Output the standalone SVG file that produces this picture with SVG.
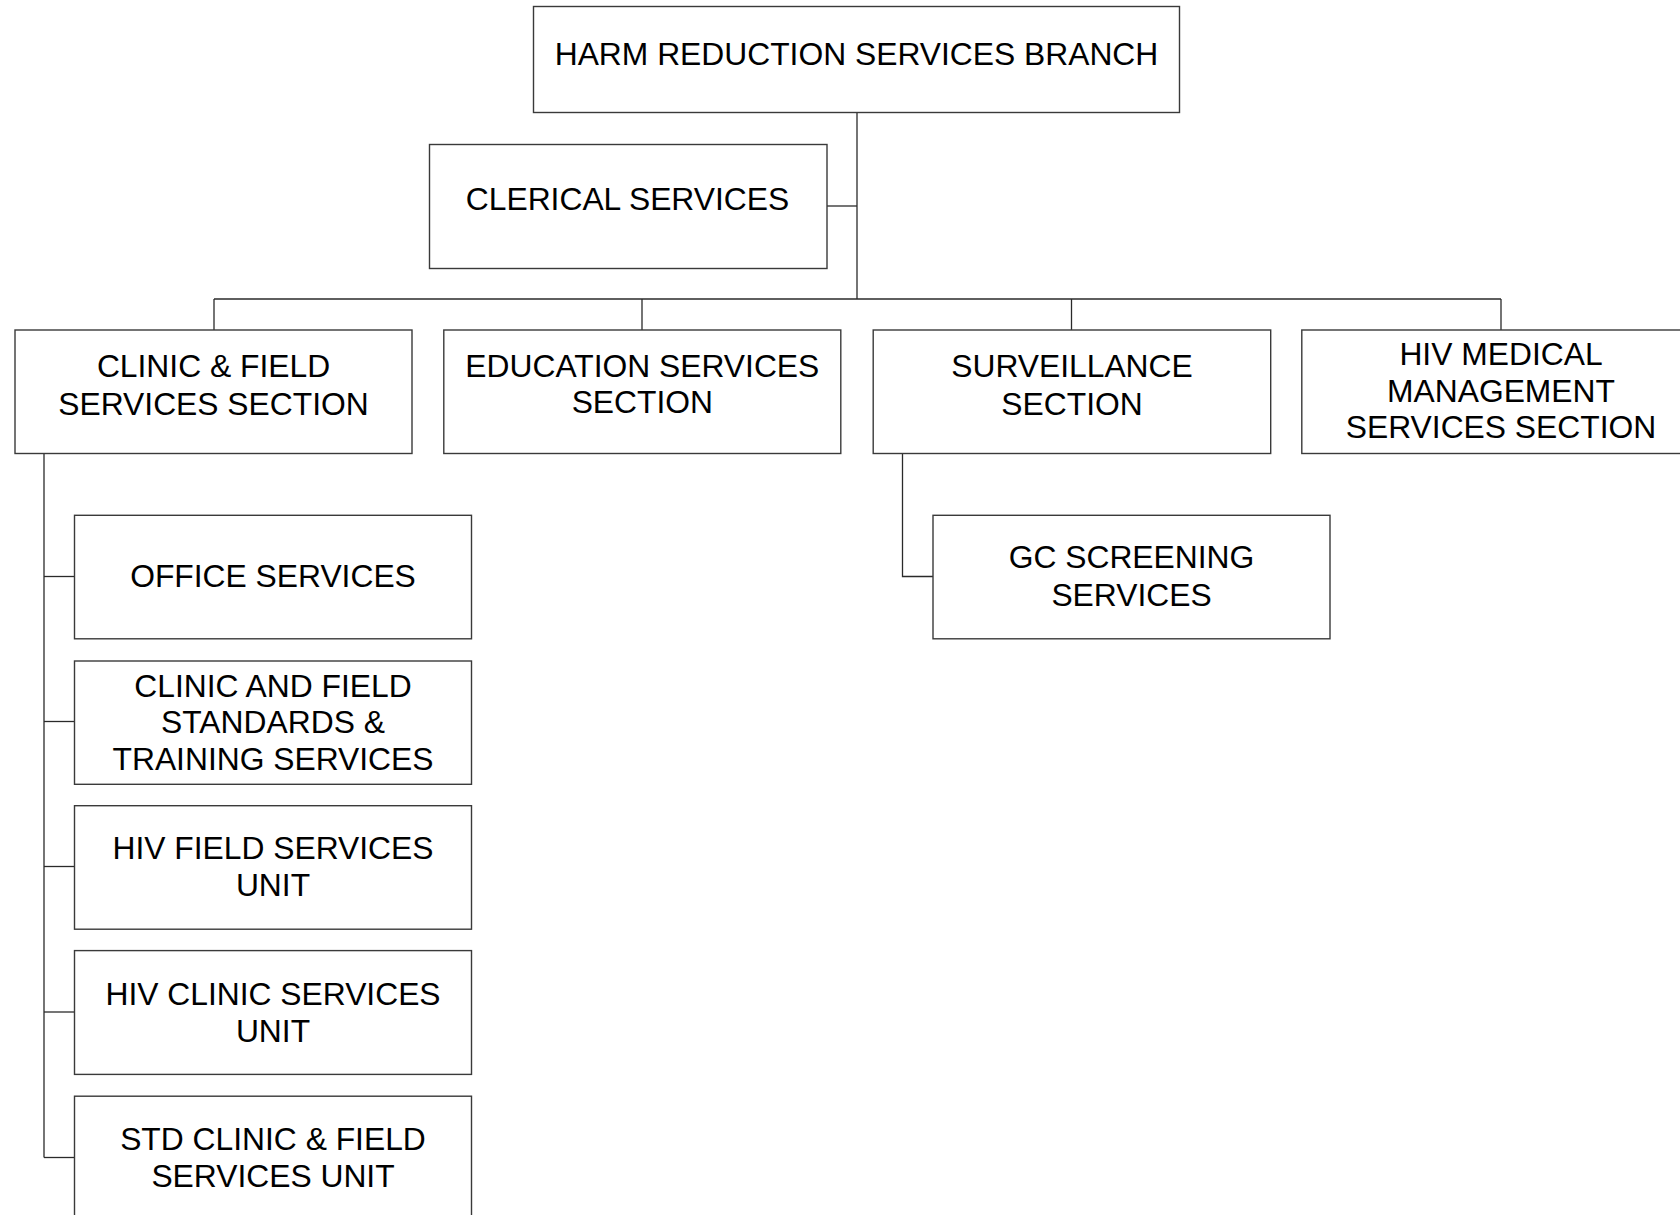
<svg xmlns="http://www.w3.org/2000/svg" width="1680" height="1215" viewBox="0 0 1680 1215">
<style>
.box{fill:#ffffff;stroke:#3a3a3a;stroke-width:1.4}
.lbl{font-family:"Liberation Sans",Arial,sans-serif;font-size:31.8px;fill:#000000;text-anchor:middle}
.conn{fill:none;stroke:#2a2a2a;stroke-width:1.3}
</style>
<rect width="1680" height="1215" fill="#ffffff"/>
<g id="connectors">
<path class="conn" d="M857,112.5 V299"/>
<path class="conn" d="M827,206 H857"/>
<path class="conn" d="M214,299 H1501"/>
<path class="conn" d="M214,299 V330"/>
<path class="conn" d="M642,299 V330"/>
<path class="conn" d="M1071.5,299 V330"/>
<path class="conn" d="M1501,299 V330"/>
<path class="conn" d="M44,453.5 V1157.5"/>
<path class="conn" d="M44,576.5 H74.5"/>
<path class="conn" d="M44,721.5 H74.5"/>
<path class="conn" d="M44,866.5 H74.5"/>
<path class="conn" d="M44,1012 H74.5"/>
<path class="conn" d="M44,1157.5 H74.5"/>
<path class="conn" d="M902.5,453.5 V576.5 H933"/>
</g>
<g id="n-branch">
<rect class="box" x="533.5" y="6.5" width="646" height="106"/>
<text class="lbl" x="856.5" y="65">HARM REDUCTION SERVICES BRANCH</text>
</g>
<g id="n-clerical">
<rect class="box" x="429.5" y="144.5" width="397.5" height="124"/>
<text class="lbl" x="627.5" y="210">CLERICAL SERVICES</text>
</g>
<g id="n-clinicfield">
<rect class="box" x="15" y="330" width="397" height="123.5"/>
<text class="lbl" x="213.5" y="377.3">CLINIC &amp; FIELD</text>
<text class="lbl" x="213.5" y="414.7">SERVICES SECTION</text>
</g>
<g id="n-education">
<rect class="box" x="443.8" y="330" width="397" height="123.5"/>
<text class="lbl" x="642.3" y="376.7">EDUCATION SERVICES</text>
<text class="lbl" x="642.3" y="412.7">SECTION</text>
</g>
<g id="n-surveillance">
<rect class="box" x="873.2" y="330" width="397.5" height="123.5"/>
<text class="lbl" x="1072" y="377.3">SURVEILLANCE</text>
<text class="lbl" x="1072" y="414.7">SECTION</text>
</g>
<g id="n-hivmedical">
<rect class="box" x="1301.8" y="330" width="398" height="123.5"/>
<text class="lbl" x="1501" y="365">HIV MEDICAL</text>
<text class="lbl" x="1501" y="401.7">MANAGEMENT</text>
<text class="lbl" x="1501" y="438.3">SERVICES SECTION</text>
</g>
<g id="n-office">
<rect class="box" x="74.5" y="515.3" width="397" height="123.5"/>
<text class="lbl" x="273" y="586.7">OFFICE SERVICES</text>
</g>
<g id="n-standards">
<rect class="box" x="74.5" y="661" width="397" height="123.3"/>
<text class="lbl" x="273" y="696.8">CLINIC AND FIELD</text>
<text class="lbl" x="273" y="733.3">STANDARDS &amp;</text>
<text class="lbl" x="273" y="770.2">TRAINING SERVICES</text>
</g>
<g id="n-hivfield">
<rect class="box" x="74.5" y="805.7" width="397" height="123.5"/>
<text class="lbl" x="273" y="859.3">HIV FIELD SERVICES</text>
<text class="lbl" x="273" y="895.8">UNIT</text>
</g>
<g id="n-hivclinic">
<rect class="box" x="74.5" y="950.6" width="397" height="123.8"/>
<text class="lbl" x="273" y="1004.9">HIV CLINIC SERVICES</text>
<text class="lbl" x="273" y="1041.5">UNIT</text>
</g>
<g id="n-std">
<rect class="box" x="74.5" y="1096.2" width="397" height="140"/>
<text class="lbl" x="273" y="1150.4">STD CLINIC &amp; FIELD</text>
<text class="lbl" x="273" y="1186.7">SERVICES UNIT</text>
</g>
<g id="n-gc">
<rect class="box" x="933" y="515.3" width="397" height="123.5"/>
<text class="lbl" x="1131.5" y="568.3">GC SCREENING</text>
<text class="lbl" x="1131.5" y="605.7">SERVICES</text>
</g>
</svg>
